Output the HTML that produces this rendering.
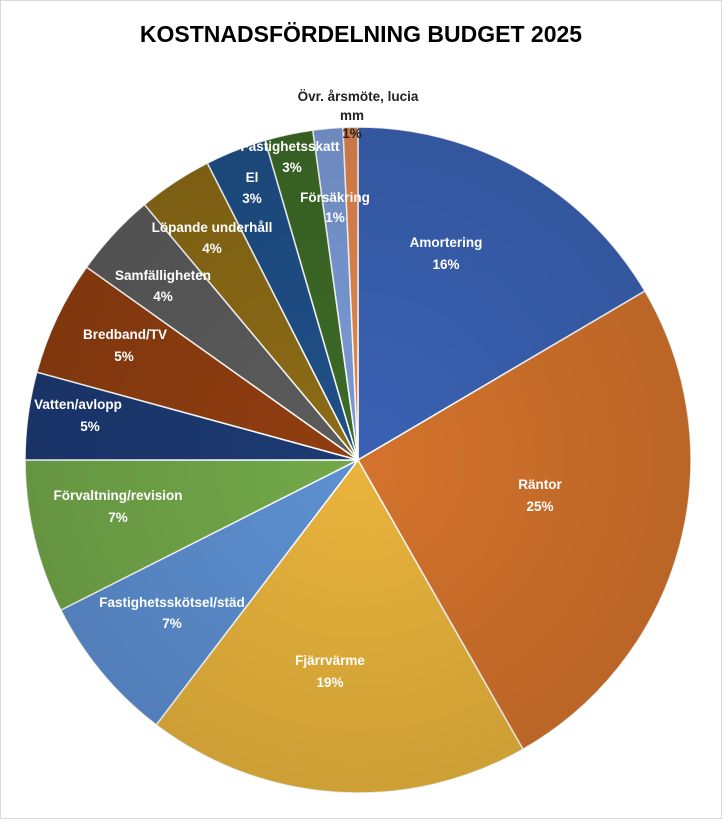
<!DOCTYPE html>
<html><head><meta charset="utf-8"><style>
html,body{margin:0;padding:0;background:#fff;}
body{width:722px;height:819px;overflow:hidden;}
svg text{font-family:"Liberation Sans",sans-serif;font-weight:bold;}
</style></head><body>
<svg id="s" width="722" height="819" viewBox="0 0 722 819">
<rect x="0.5" y="0.5" width="721" height="818" fill="#fff" stroke="#d9d9d9"/>
<defs><radialGradient id="g" cx="50%" cy="50%" r="50%"><stop offset="0" stop-color="#000" stop-opacity="0"/><stop offset="1" stop-color="#000" stop-opacity="0.12"/></radialGradient></defs>
<text x="361" y="42" text-anchor="middle" font-size="23" fill="#000">KOSTNADSFÖRDELNING BUDGET 2025</text>
<g id="p"></g>
<circle cx="358" cy="460" r="333" fill="url(#g)"/>
<g fill="#fff" font-size="13.5" text-anchor="middle">
<text x="446" y="247">Amortering</text><text x="446" y="269">16%</text>
<text x="540" y="489">Räntor</text><text x="540" y="511">25%</text>
<text x="330" y="665">Fjärrvärme</text><text x="330" y="687">19%</text>
<text x="172" y="607">Fastighetsskötsel/städ</text><text x="172" y="628">7%</text>
<text x="118" y="500">Förvaltning/revision</text><text x="118" y="522">7%</text>
<text x="78" y="409">Vatten/avlopp</text><text x="90" y="431">5%</text>
<text x="125" y="339">Bredband/TV</text><text x="124" y="361">5%</text>
<text x="163" y="280">Samfälligheten</text><text x="163" y="301">4%</text>
<text x="212" y="232">Löpande underhåll</text><text x="212" y="253">4%</text>
<text x="252" y="182">El</text><text x="252" y="203">3%</text>
<text x="290" y="151">Fastighetsskatt</text><text x="292" y="172">3%</text>
<text x="335" y="202">Försäkring</text><text x="335" y="222">1%</text>
</g>
<g fill="#222" font-size="13.5" text-anchor="middle">
<text x="358" y="101">Övr. årsmöte, lucia</text><text x="352" y="120">mm</text><text x="352" y="138">1%</text>
</g>
</svg>
<script>
var cx=358,cy=460,r=333;
var b=[0,59.5,150.3,217.3,243.2,270,285.3,305.4,320.1,333.1,343.8,352.2,357.4,360];
var c=["#3a62b4","#d4732c","#e9b43c","#5d90d2","#73a94a","#1c3a74","#913e10","#5c5c5c","#8d6c16","#1f5089","#3d6b27","#7b9bd7","#e2874e"];
var h="";
function pt(a){a=a*Math.PI/180;return (cx+r*Math.sin(a)).toFixed(2)+","+(cy-r*Math.cos(a)).toFixed(2);}
for(var i=0;i<13;i++){var l=(b[i+1]-b[i])>180?1:0;
h+='<path d="M'+cx+','+cy+' L'+pt(b[i])+' A'+r+','+r+' 0 '+l+' 1 '+pt(b[i+1])+' Z" fill="'+c[i]+'" stroke="#fff" stroke-width="1.5"/>';}
document.getElementById("p").innerHTML=h;
</script>
</body></html>
